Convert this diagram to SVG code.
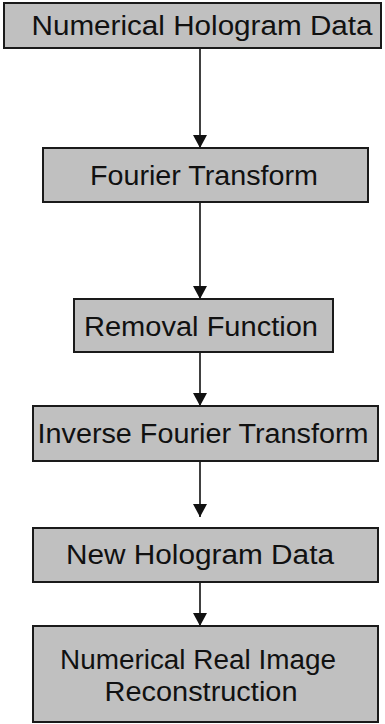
<svg xmlns="http://www.w3.org/2000/svg" width="385" height="724" viewBox="0 0 385 724">
<style>
.box{fill:#c0c0c0;stroke:#1a1a1a;stroke-width:2}
.t{font-family:"Liberation Sans",Arial,sans-serif;font-size:27px;fill:#111;text-anchor:middle}
.c{stroke:#111;stroke-width:1.6;fill:none}
</style>
<defs>
<marker id="ah" viewBox="0 0 13 14" refX="13" refY="7" markerWidth="13" markerHeight="14" markerUnits="userSpaceOnUse" orient="auto">
<path d="M0,0 L13,7 L0,14 Z" fill="#111"/>
</marker>
</defs>
<g id="connectors">
<line class="c" x1="200" y1="48" x2="200" y2="148" marker-end="url(#ah)"/>
<line class="c" x1="200" y1="202" x2="200" y2="299" marker-end="url(#ah)"/>
<line class="c" x1="200" y1="352" x2="200" y2="406" marker-end="url(#ah)"/>
<line class="c" x1="200" y1="461" x2="200" y2="517" marker-end="url(#ah)"/>
<line class="c" x1="200" y1="582" x2="200" y2="626" marker-end="url(#ah)"/>
</g>
<g id="n1">
<rect class="box" x="4" y="3" width="377" height="45"/>
<text class="t" x="202" y="35" textLength="341" lengthAdjust="spacingAndGlyphs">Numerical Hologram Data</text>
</g>
<g id="n2">
<rect class="box" x="43" y="148" width="325" height="54"/>
<text class="t" x="204" y="185" textLength="228" lengthAdjust="spacingAndGlyphs">Fourier Transform</text>
</g>
<g id="n3">
<rect class="box" x="74" y="299" width="259" height="53"/>
<text class="t" x="201" y="336" textLength="234" lengthAdjust="spacingAndGlyphs">Removal Function</text>
</g>
<g id="n4">
<rect class="box" x="33" y="406" width="345" height="55"/>
<text class="t" x="203" y="443" textLength="331" lengthAdjust="spacingAndGlyphs">Inverse Fourier Transform</text>
</g>
<g id="n5">
<rect class="box" x="33" y="528" width="345" height="54"/>
<text class="t" x="200" y="564" textLength="268" lengthAdjust="spacingAndGlyphs">New Hologram Data</text>
</g>
<g id="n6">
<rect class="box" x="33" y="626" width="345" height="96"/>
<text class="t" x="198" y="669" textLength="276" lengthAdjust="spacingAndGlyphs">Numerical Real Image</text>
<text class="t" x="201" y="701" textLength="193" lengthAdjust="spacingAndGlyphs">Reconstruction</text>
</g>
</svg>
